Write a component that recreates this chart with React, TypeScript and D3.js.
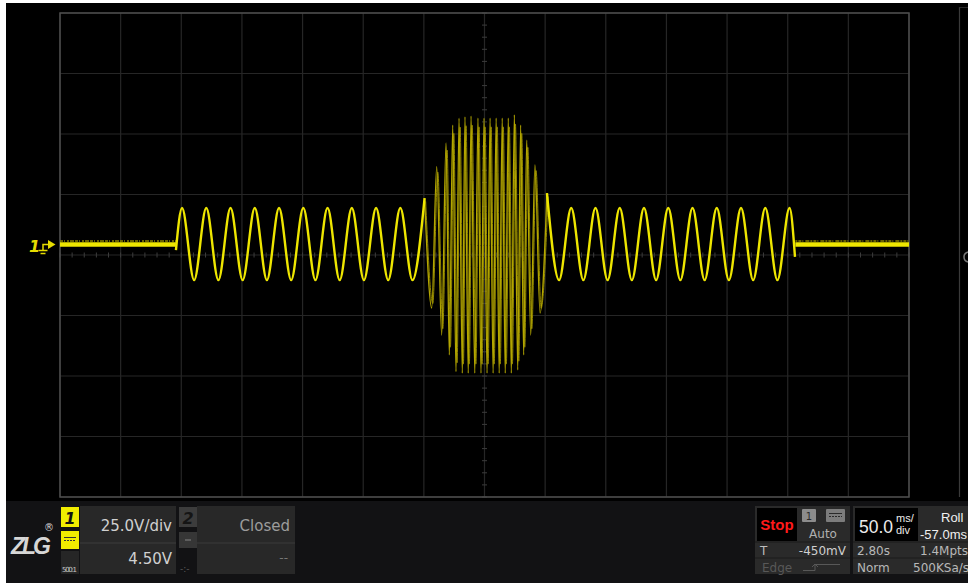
import React from "react";
import * as d3 from "d3";

// ---- data (time in ms from left edge, volts) ----
const xDivisionsMs = [0, 50, 100, 150, 200, 250, 300, 350, 400, 450, 500, 550, 600, 650, 700];
const yDivisionsV = [-100, -75, -50, -25, 0, 25, 50, 75, 100];
const baselineV = 4.3;
const flatLeftMs = [0, 95.6];
const flatRightMs = [606.3, 700];

const leftTraceMs = [95.6, 100.6, 110.6, 120.6, 130.6, 140.6, 150.6, 160.6, 170.6, 180.6, 190.6, 200.6, 210.6, 220.6, 230.6, 240.6, 250.6, 260.6, 270.6, 280.6, 290.6, 300.6];
const leftTraceV = [2.0, 19.4, -10.4, 19.4, -10.4, 19.4, -10.4, 19.4, -10.4, 19.4, -10.4, 19.4, -10.4, 19.4, -10.4, 19.4, -10.4, 19.4, -10.4, 19.4, -10.4, 23.5];

const burstMs = [300.6, 306.5, 310.6, 314.7, 318.3, 321.0, 323.8, 326.5, 329.0, 331.7, 333.9, 336.6, 338.9, 342.0, 344.6, 347.1, 349.6, 352.1, 354.6, 357.1, 359.6, 362.1, 364.6, 367.1, 369.6, 372.1, 374.6, 377.4, 379.8, 382.3, 384.8, 388.1, 391.6, 395.8, 401.5];
const burstV = [23.5, -21.9, 36.5, -33.1, 46.3, -41.3, 53.7, -48.2, 56.5, -48.8, 57.1, -48.8, 57.4, -48.8, 56.6, -48.8, 56.6, -48.8, 56.6, -48.8, 56.6, -48.8, 56.6, -48.8, 56.6, -48.8, 57.9, -47.5, 53.7, -41.3, 47.5, -33.1, 37.2, -24.0, 25.6];

const rightTraceMs = [401.5, 411.5, 421.5, 431.5, 441.5, 451.5, 461.5, 471.5, 481.5, 491.5, 501.5, 511.5, 521.5, 531.5, 541.5, 551.5, 561.5, 571.5, 581.5, 591.5, 601.5, 606.0];
const rightTraceV = [25.6, -10.4, 19.4, -10.4, 19.4, -10.4, 19.4, -10.4, 19.4, -10.4, 19.4, -10.4, 19.4, -10.4, 19.4, -10.4, 19.4, -10.4, 19.4, -10.4, 19.4, -0.8];

const ch1Scale = "25.0V/div";
const ch1Offset = "4.50V";
const ch1Probe = "500:1";
const ch2State = "Closed";
const timebase = "50.0";
const triggerLevel = "-450mV";
const delay = "-57.0ms";
const span = "2.80s";
const depth = "1.4Mpts";
const rate = "500KSa/s";

const W = 968, H = 583;
const PL = 60, PR = 909, PT = 13, PB = 497;

export default function App() {
  const x = d3.scaleLinear().domain([0, 700]).range([PL, PR]);
  const y = d3.scaleLinear().domain([-100, 100]).range([PB, PT]);
  const line = d3
    .line<[number, number]>()
    .x((d) => x(d[0]))
    .y((d) => y(d[1]))
    .curve(d3.curveMonotoneX);
  const zip = (a: number[], b: number[]) => a.map((t, i) => [t, b[i]] as [number, number]);
  const leftPath = line(zip(leftTraceMs, leftTraceV)) || "";
  const rightPath = line(zip(rightTraceMs, rightTraceV)) || "";
  const burstPath = line(zip(burstMs, burstV)) || "";
  const burstPath2 = line(zip(burstMs.map((t) => t + 0.9), burstV.map((v) => baselineV + (v - baselineV) * 0.93))) || "";
  const flatL = line([[flatLeftMs[0], baselineV], [flatLeftMs[1], baselineV]]) || "";
  const flatR = line([[flatRightMs[0], baselineV], [flatRightMs[1], baselineV]]) || "";

  const cx = x(350), cy = y(0);
  const minorX = d3.range(0, 700.01, 10).map((t) => x(t));
  const minorY = d3.range(-100, 100.01, 5).map((v) => y(v));

  const font = "'DejaVu Sans', Verdana, sans-serif";
  const narrow = "'Liberation Sans', Arial, sans-serif";
  const yellow = "#eee600";

  return (
    <svg width={W} height={H} style={{ position: "absolute", left: 0, top: 0, display: "block" }} fontFamily={font}>
      <rect x={0} y={0} width={W} height={H} fill="#fff" />
      <rect x={6} y={3} width={W - 6} height={H - 3} fill="#000" />

      {/* grid */}
      {xDivisionsMs.map((t) => (
        <line key={"gx" + t} x1={x(t)} x2={x(t)} y1={PT} y2={PB} stroke="#262626" strokeWidth={1.2} />
      ))}
      {yDivisionsV.map((v) => (
        <line key={"gy" + v} x1={PL} x2={PR} y1={y(v)} y2={y(v)} stroke="#262626" strokeWidth={1.2} />
      ))}
      {minorX.map((px, i) => (
        <line key={"mx" + i} x1={px} x2={px} y1={cy - 2.5} y2={cy + 2.5} stroke="#3c3c3c" strokeWidth={1} />
      ))}
      {minorY.map((py, i) => (
        <line key={"my" + i} x1={cx - 2.5} x2={cx + 2.5} y1={py} y2={py} stroke="#3c3c3c" strokeWidth={1} />
      ))}
      <rect x={PL} y={PT} width={PR - PL} height={PB - PT} fill="none" stroke="#4e4e4e" strokeWidth={1.5} />

      {/* right side panel */}
      <line x1={959.5} x2={959.5} y1={7} y2={PB} stroke="#3a3a3a" strokeWidth={1.2} />
      <line x1={959.5} x2={968} y1={7.5} y2={7.5} stroke="#2a2a2a" strokeWidth={1} />
      <path d="M968,252 Q964,253 964,257 Q964,261 968,262" fill="none" stroke="#777" strokeWidth={1.5} />

      {/* trace */}
      <g>
        <path d={flatL} stroke="#8a8200" strokeWidth={1.5} strokeDasharray="3 1 1 2 2 1 4 1" transform="translate(0,-3.5)" fill="none" />
        <path d={flatR} stroke="#8a8200" strokeWidth={1.5} strokeDasharray="2 1 3 1 1 2 4 1" transform="translate(0,-3.5)" fill="none" />
        <path d={flatL} stroke={yellow} strokeWidth={4.5} fill="none" />
        <path d={flatR} stroke={yellow} strokeWidth={4.5} fill="none" />
        <path d={burstPath2} stroke="#8f8400" strokeWidth={1} fill="none" />
        <path d={burstPath} stroke="#b3a600" strokeWidth={1.3} fill="none" />
        <path d={leftPath} stroke={yellow} strokeWidth={2.4} fill="none" strokeLinejoin="round" />
        <path d={rightPath} stroke={yellow} strokeWidth={2.4} fill="none" strokeLinejoin="round" />
      </g>

      {/* channel marker */}
      <g fill="#e6dc00" stroke="#e6dc00">
        <text x={29} y={252} fontSize={16} fontStyle="italic" fontWeight="bold" stroke="none">1</text>
        <path d="M38.5,250.5 H47.5 M40.5,253.5 H45.5 M43,250.5 V244.5 H49" fill="none" strokeWidth={1.5} />
        <path d="M48,240 L55.5,244.5 L48,249 Z" stroke="none" />
      </g>

      {/* bottom bar */}
      <rect x={6} y={501} width={W - 6} height={H - 501} fill="#121214" />

      {/* logo */}
      <text x={11} y={554} fontSize={23} fontStyle="italic" fontWeight="bold" fill="#d6d6d6" letterSpacing={-3} fontFamily={narrow}>ZLG</text>
      <text x={44} y={531} fontSize={10} fill="#d6d6d6">®</text>

      {/* channel 1 */}
      <rect x={61} y={507} width={18} height={20} fill="#f0ec00" />
      <text x={70} y={524} fontSize={16} fontWeight="bold" fontStyle="italic" textAnchor="middle" fill="#111">1</text>
      <rect x={61} y={531} width={18} height={18} fill="#f0ec00" />
      <line x1={64} x2={76} y1={537.5} y2={537.5} stroke="#333" strokeWidth={1} />
      <line x1={64} x2={76} y1={540.5} y2={540.5} stroke="#333" strokeWidth={1} strokeDasharray="2 1" />
      <rect x={61} y={551} width={18} height={23} fill="#262626" />
      <text x={62} y={572} fontSize={7} fill="#c8c8c8" textLength={15}>{ch1Probe}</text>
      <rect x={80} y={506} width={96} height={68} fill="#282828" />
      <line x1={80} x2={176} y1={543} y2={543} stroke="#3c3c3c" strokeWidth={1} />
      <text x={172} y={531} fontSize={15} textAnchor="end" fill="#d0d0d0">{ch1Scale}</text>
      <text x={172} y={564} fontSize={15} textAnchor="end" fill="#d0d0d0">{ch1Offset}</text>

      {/* channel 2 */}
      <rect x={179} y={507} width={18} height={20} fill="#3c3c3c" />
      <text x={188} y={524} fontSize={16} fontWeight="bold" fontStyle="italic" textAnchor="middle" fill="#151515">2</text>
      <rect x={179} y={532} width={18} height={16} fill="#363636" />
      <line x1={185} x2={191} y1={540} y2={540} stroke="#7a7a7a" strokeWidth={1.2} />
      <text x={180} y={572} fontSize={9} fill="#5a5a5a">-:-</text>
      <rect x={197} y={506} width={98} height={68} fill="#282828" />
      <line x1={197} x2={295} y1={543} y2={543} stroke="#3a3a3a" strokeWidth={1} />
      <text x={290} y={531} fontSize={15} textAnchor="end" fill="#9c9c9c">{ch2State}</text>
      <text x={288} y={562} fontSize={12} textAnchor="end" fill="#777">--</text>

      {/* trigger panel */}
      <rect x={755} y={506} width={95} height={68} fill="#2a2a2a" />
      <rect x={757} y={508} width={40} height={33} fill="#000" />
      <text x={777} y={530} fontSize={15} fontWeight="bold" textAnchor="middle" fill="#ff1a1a" fontFamily={narrow}>Stop</text>
      <rect x={802} y={509} width={14} height={13} fill="#8c8c8c" rx={1} />
      <text x={809} y={520} fontSize={10} textAnchor="middle" fill="#2a2a2a">1</text>
      <rect x={826} y={509} width={19} height={13} fill="#7c7c7c" rx={1} />
      <line x1={829} x2={842} y1={513.5} y2={513.5} stroke="#2a2a2a" strokeWidth={1} />
      <line x1={829} x2={842} y1={516.5} y2={516.5} stroke="#2a2a2a" strokeWidth={1} strokeDasharray="2 1" />
      <text x={823} y={538} fontSize={12} textAnchor="middle" fill="#b0b0b0">Auto</text>
      <line x1={755} x2={850} y1={542} y2={542} stroke="#1a1a1a" strokeWidth={1} />
      <line x1={755} x2={850} y1={558} y2={558} stroke="#1a1a1a" strokeWidth={1} />
      <text x={760} y={555} fontSize={12} fill="#bdbdbd">T</text>
      <text x={846} y={555} fontSize={12} textAnchor="end" fill="#cfcfcf">{triggerLevel}</text>
      <text x={762} y={572} fontSize={12} fill="#585858">Edge</text>
      <path d="M803,570.5 H815 V564.5 H840 M812,567 L815,564 L818,567" fill="none" stroke="#585858" strokeWidth={1} />

      {/* timebase panel */}
      <rect x={853} y={506} width={W - 853} height={68} fill="#2a2a2a" />
      <rect x={855} y={508} width={63} height={33} fill="#000" />
      <text x={859} y={533} fontSize={17.5} fill="#ececec" fontFamily={narrow}>{timebase}</text>
      <text x={896} y={522} fontSize={11} fill="#ececec" fontFamily={narrow}>ms/</text>
      <text x={896} y={534} fontSize={11} fill="#ececec" fontFamily={narrow}>div</text>
      <text x={941} y={522} fontSize={13} fill="#f0f0f0" fontFamily={narrow}>Roll</text>
      <text x={920} y={539} fontSize={13} fill="#f0f0f0" fontFamily={narrow}>{delay}</text>
      <line x1={853} x2={W} y1={542} y2={542} stroke="#1a1a1a" strokeWidth={1} />
      <line x1={853} x2={W} y1={558} y2={558} stroke="#1a1a1a" strokeWidth={1} />
      <text x={857} y={555} fontSize={12} fill="#b8b8b8">{span}</text>
      <text x={920} y={555} fontSize={12} fill="#b8b8b8">{depth}</text>
      <text x={857} y={572} fontSize={12} fill="#b8b8b8">Norm</text>
      <text x={913} y={572} fontSize={12} fill="#b8b8b8">{rate}</text>
    </svg>
  );
}
